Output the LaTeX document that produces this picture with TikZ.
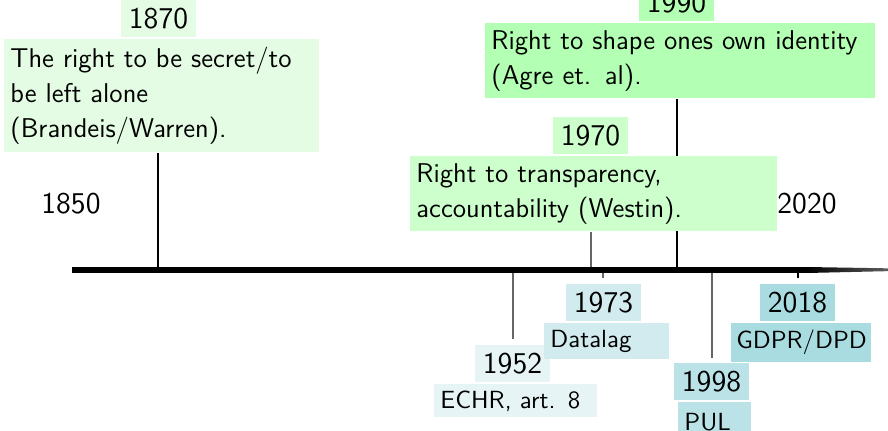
\documentclass[tikz,border=0pt]{standalone}
\usepackage{fontspec}
\definecolor{cA}{HTML}{E4FCE4}
\definecolor{cB}{HTML}{CCFFCC}
\definecolor{cC}{HTML}{B3FFB3}
\definecolor{cD}{HTML}{E6F4F5}
\definecolor{cE}{HTML}{D2EBEE}
\definecolor{cF}{HTML}{BBE3E7}
\definecolor{cG}{HTML}{A8DCE0}
\definecolor{tickgray}{HTML}{666666}
\tikzset{
  yearbox/.style={fill=#1, inner sep=0pt, minimum width=32.3pt, minimum height=15.9pt,
    font=\sffamily\fontsize{13}{15}\selectfont},
  topdesc/.style={fill=#1, anchor=north west, inner xsep=2.59pt, inner ysep=0pt, align=left,
    font=\sffamily\fontsize{11.7}{15.1}\selectfont},
  lowdesc/.style={fill=#1, anchor=north west, inner xsep=2.59pt, inner ysep=0pt, align=left,
    font=\sffamily\fontsize{10.7}{12.5}\selectfont},
  axislabel/.style={inner sep=0pt, font=\sffamily\fontsize{13}{15}\selectfont},
  blackline/.style={draw=black, line width=0.5pt},
  grayline/.style={draw=tickgray, line width=0.6pt},
}
\begin{document}
\begin{tikzpicture}[x=0.431pt,y=-0.431pt]
\useasboundingbox (0,0) rectangle (888,430);
% axis coordinates
\coordinate (axstart) at (72,270);
\coordinate (axend) at (807,270);
\coordinate (a1870) at (158,272);
\coordinate (a1970) at (591,272);
\coordinate (a1990) at (677,272);
\coordinate (a1952) at (513,268);
\coordinate (a1973) at (603,268);
\coordinate (a1998) at (712,268);
\coordinate (a2018) at (798,268);
\coordinate (e1952) at (513,339);
\coordinate (e1973) at (603,278);
\coordinate (e1998) at (712,358);
\coordinate (e2018) at (798,278);
% upper boxes
\node[topdesc=cA, text width=130.2pt, minimum height=48.7pt] (d1870) at (4,39)
  {The right to be secret/to\\be left alone\\(Brandeis/Warren).};
\node[yearbox=cA] (y1870) at (158.5,18.5) {1870};
\node[topdesc=cC, text width=162.5pt, minimum height=32.3pt] (d1990) at (485,23)
  {Right to shape ones own identity\\(Agre et. al).};
\node[yearbox=cC] (y1990) at (676.5,2.5) {1990};
% connectors of upper events (drawn before the 1970 box)
\draw[blackline] (d1870.south -| a1870) -- (a1870);
\draw[blackline] (d1990.south -| a1990) -- (a1990);
\node[topdesc=cB, text width=153pt, minimum height=32.3pt] (d1970) at (410,156)
  {Right to transparency,\\accountability (Westin).};
\node[yearbox=cB] (y1970) at (590.5,135.5) {1970};
\draw[grayline] (d1970.south -| a1970) -- (a1970);
% axis labels
\node[axislabel] (l1850) at (71,204) {1850};
\node[axislabel] (l2020) at (807,204) {2020};
% lower connectors
\draw[grayline] (a1952) -- (e1952);
\draw[grayline] (a1973) -- (e1973);
\draw[grayline] (a1998) -- (e1998);
\draw[blackline] (a2018) -- (e2018);
% axis
\draw[line width=2.59pt, draw=black] (axstart) -- (axend);
\shade[left color=black, right color=gray!60] (807,267) -- (960,269.5) -- (807,273) -- cycle;
% lower boxes
\node[yearbox=cD] (y1952) at (512.5,363.5) {1952};
\node[lowdesc=cD, text width=64.7pt, minimum height=14.2pt] (d1952) at (434,384) {ECHR, art. 8};
\node[yearbox=cE] (y1973) at (603.5,302.5) {1973};
\node[lowdesc=cE, text width=48.7pt, minimum height=15.1pt] (d1973) at (544,323) {Datalag};
\node[yearbox=cF] (y1998) at (711.5,381.5) {1998};
\node[lowdesc=cF, text width=25.9pt, minimum height=17.2pt] (d1998) at (678,402) {PUL};
\node[yearbox=cG] (y2018) at (797.5,302.5) {2018};
\node[lowdesc=cG, inner xsep=2.1pt, text width=56.1pt, minimum height=16.4pt] (d2018) at (731,323) {GDPR/DPD};
\end{tikzpicture}
\end{document}
